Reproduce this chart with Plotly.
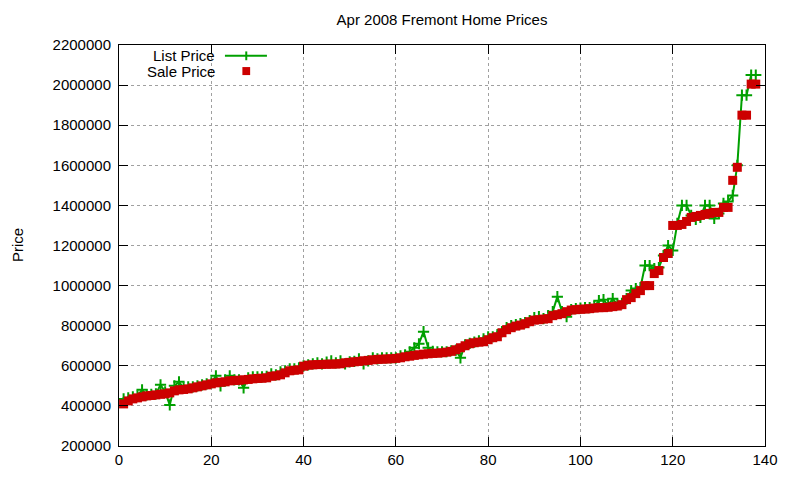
import plotly.graph_objects as go

# home index (sorted by sale price)
homes = list(range(1, 139))

# sale prices, in thousands of dollars
sale_k = [
    410, 425, 435, 440, 445, 450, 452, 455, 458, 460,
    465, 475, 480, 482, 485, 490, 495, 500, 505, 510,
    515, 518, 520, 525, 527, 528, 530, 532, 535, 537,
    538, 540, 548, 550, 555, 565, 575, 578, 580, 598,
    603, 605, 606, 607, 608, 608, 609, 610, 615, 617,
    620, 622, 625, 627, 630, 632, 633, 634, 635, 637,
    640, 645, 648, 652, 655, 658, 660, 662, 663, 665,
    668, 672, 680, 690, 700, 710, 715, 718, 720, 730,
    740, 745, 765, 780, 790, 798, 803, 810, 820, 828,
    830, 833, 835, 850, 855, 860, 870, 878, 880, 882,
    883, 885, 888, 890, 890, 892, 895, 898, 905, 930,
    940, 960, 975, 1000, 1000, 1060, 1075, 1140, 1160, 1300,
    1300, 1305, 1320, 1340, 1345, 1350, 1355, 1360, 1365, 1365,
    1390, 1390, 1525, 1590, 1850, 1850, 2005, 2005,
]

# list prices, in thousands of dollars
list_k = [
    435, 440, 445, 450, 480, 455, 458, 460, 505, 470,
    405, 500, 520, 490, 495, 495, 500, 505, 510, 515,
    550, 500, 530, 550, 530, 530, 490, 540, 545, 545,
    545, 548, 560, 555, 570, 575, 585, 585, 590, 600,
    605, 610, 615, 610, 618, 625, 615, 625, 610, 620,
    622, 635, 610, 625, 640, 635, 640, 640, 640, 640,
    650, 655, 670, 690, 710, 770, 690, 672, 670, 670,
    670, 675, 678, 640, 705, 712, 718, 725, 735, 745,
    745, 755, 770, 790, 800, 805, 810, 815, 825, 840,
    845, 835, 850, 870, 945, 870, 845, 880, 885, 888,
    890, 890, 895, 925, 930, 900, 935, 905, 910, 935,
    975, 985, 990, 1100, 1100, 1085, 1090, 1150, 1200, 1175,
    1310, 1400, 1400, 1350, 1330, 1340, 1400, 1400, 1335, 1360,
    1410, 1420, 1450, 1600, 1950, 1950, 2050, 2050,
]

list_price = [v * 1000 for v in list_k]
sale_price = [v * 1000 for v in sale_k]

GREEN = "#00a000"
RED = "#cc0000"
FONT = "Liberation Sans, Arial, sans-serif"

fig = go.Figure()
fig.add_trace(go.Scatter(
    x=homes, y=list_price, mode="lines+markers", name="List Price",
    line=dict(color=GREEN, width=2),
    marker=dict(symbol="cross-thin", size=8, line=dict(color=GREEN, width=2)),
    showlegend=False, cliponaxis=False,
))
fig.add_trace(go.Scatter(
    x=homes, y=sale_price, mode="markers", name="Sale Price",
    marker=dict(symbol="square", size=9, color=RED, line=dict(width=0)),
    showlegend=False, cliponaxis=False,
))

# gnuplot style key: text on the left, sample on the right
fig.add_annotation(xref="paper", yref="paper", x=0.152, y=0.973, text="List Price",
                   showarrow=False, xanchor="right", yanchor="middle",
                   font=dict(size=15, color="black", family=FONT))
fig.add_annotation(xref="paper", yref="paper", x=0.152, y=0.935, text="Sale Price",
                   showarrow=False, xanchor="right", yanchor="middle",
                   font=dict(size=15, color="black", family=FONT))
fig.add_shape(type="line", xref="paper", yref="paper", x0=0.164, x1=0.229, y0=0.973, y1=0.973,
              line=dict(color=GREEN, width=2))
fig.add_shape(type="line", xref="paper", yref="paper", x0=0.197, x1=0.197, y0=0.962, y1=0.984,
              line=dict(color=GREEN, width=2))
fig.add_shape(type="rect", xref="paper", yref="paper", x0=0.191, x1=0.203, y0=0.925, y1=0.945,
              line=dict(width=0), fillcolor=RED)

fig.add_annotation(xref="paper", yref="paper", x=-0.157, y=0.5, text="Price", textangle=-90,
                   showarrow=False, xanchor="center", yanchor="middle",
                   font=dict(size=15, color="black", family=FONT))

axis_style = dict(
    showline=True, linecolor="black", linewidth=1, mirror="ticks",
    ticks="inside", ticklen=9, tickcolor="black", tickwidth=1,
    showgrid=True, gridcolor="#a0a0a0", griddash="dot", gridwidth=1,
    zeroline=False, tickfont=dict(size=15, color="black", family=FONT),
)

fig.update_xaxes(range=[0, 140], dtick=20, tick0=0, **axis_style)
fig.update_yaxes(range=[200000, 2200000], dtick=200000, tick0=200000, tickformat="d",
                 ticklabelstandoff=4, **axis_style)

# the page body adds an 8px offset, so the figure is a bit smaller than the window
fig.update_layout(
    width=792, height=472,
    margin=dict(l=111, r=35, t=37, b=32),
    paper_bgcolor="white", plot_bgcolor="white",
    title=dict(text="Apr 2008 Fremont Home Prices", x=0.5, xref="paper",
               y=1 - 12 / 472, yanchor="middle",
               font=dict(size=15, color="black", family=FONT)),
    font=dict(family=FONT, color="black"),
)

fig.write_html("out.html")
